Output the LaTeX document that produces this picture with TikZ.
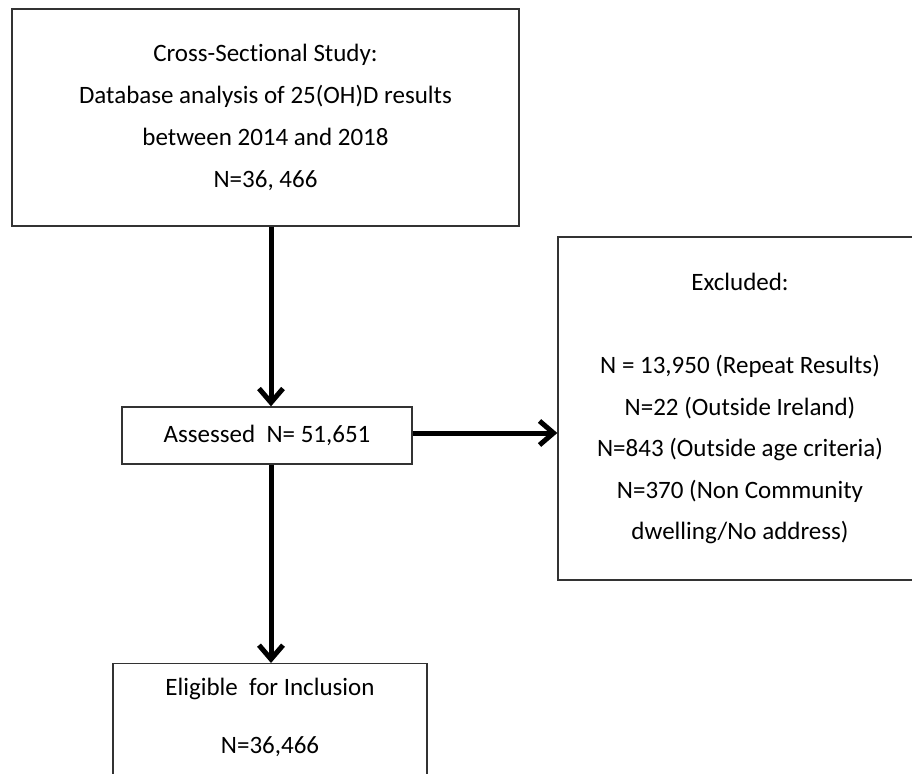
\documentclass[tikz,border=0pt]{standalone}
\usepackage{fontspec}
\setmainfont[RawFeature={-liga;-clig;-calt;-dlig}]{Carlito}
\usetikzlibrary{arrows.meta}
\begin{document}
\begin{tikzpicture}[x=1pt,y=-1pt,
  box/.style={draw=black!80, line width=1.3pt, inner sep=0pt, align=center, font=\fontsize{25}{42}\selectfont},
  txt/.style={inner sep=0pt, font=\fontsize{25}{42}\selectfont},
  flow/.style={line width=5pt, -{Straight Barb[length=14pt,width=24pt]}}]
\clip (0,0) rectangle (912,773);
\fill[white] (0,0) rectangle (912,773);
\node[box, minimum width=507, minimum height=217] (study) at (265.5,117.5)
  {Cross-Sect\kern0pt ional Study:\\Database analysis of 25(OH)D results\\between 2014 and 2018\\N=36, 466};
\node[box, minimum width=290, minimum height=57] (assess) at (267,435.5) {Assessed~~N= 51,651};
\node[box, minimum width=364, minimum height=343, font=\fontsize{25}{41.5}\selectfont] (excl) at (740,408.5)
  {Excluded:\\[41.5pt]N = 13,950 (Repeat Results)\\N=22 (Outside Ireland)\\N=843 (Outside age criteria)\\N=370 (Non Community\\dwelling/No address)};
\node[box, minimum width=314, minimum height=170, anchor=north] (elig) at (270,663) {};
\node[txt] (eligA) at (270,689) {Eligible~~for Inclusion};
\node[txt] (eligB) at (270,747) {N=36,466};
\coordinate (ax) at (271,0);
\coordinate (ay) at (0,433);
\draw[flow] (study.south -| ax) -- (assess.north -| ax);
\draw[flow] (assess.south -| ax) -- (elig.north -| ax);
\draw[flow] (assess.east |- ay) -- (excl.west |- ay);
\end{tikzpicture}
\end{document}
